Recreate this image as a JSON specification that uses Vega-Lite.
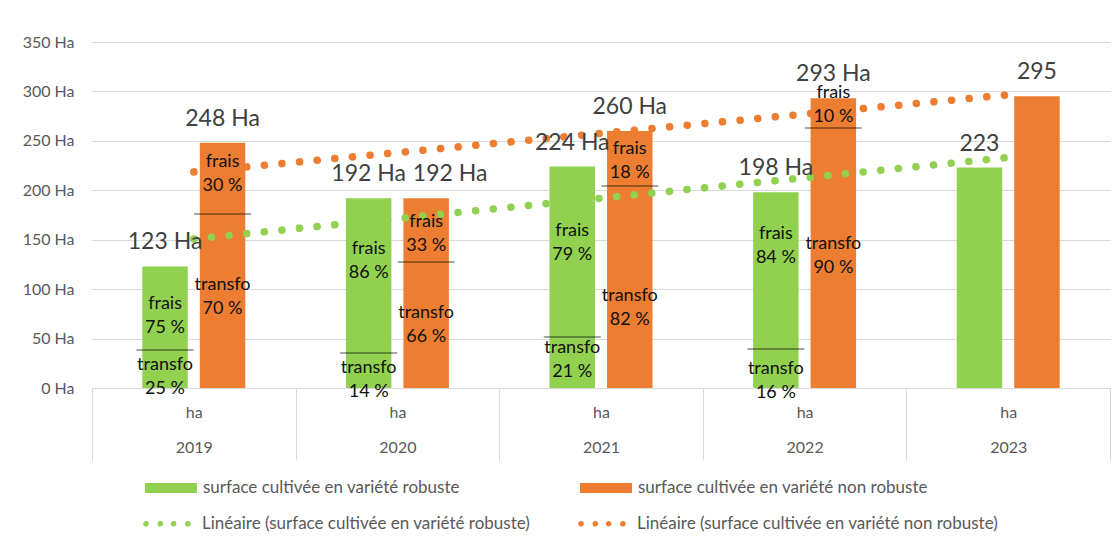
{
  "$schema": "https://vega.github.io/schema/vega-lite/v6.json",
  "width": 1018,
  "height": 346,
  "autosize": {"type": "none"},
  "padding": {"left": 92, "top": 42, "right": 9, "bottom": 154},
  "background": "white",
  "config": {
    "font": "Lato",
    "view": {"stroke": null},
    "axis": {"labelFont": "Lato", "labelColor": "#595959", "labelFontSize": 16, "title": null}
  },
  "datasets": {
    "surf": [
      {"annee": 2019, "serie": "surface cultivée en variété robuste", "tendance": "Linéaire (surface cultivée en variété robuste)", "ha": 123, "etiquette": "123 Ha"},
      {"annee": 2019, "serie": "surface cultivée en variété non robuste", "tendance": "Linéaire (surface cultivée en variété non robuste)", "ha": 248, "etiquette": "248 Ha"},
      {"annee": 2020, "serie": "surface cultivée en variété robuste", "tendance": "Linéaire (surface cultivée en variété robuste)", "ha": 192, "etiquette": "192 Ha"},
      {"annee": 2020, "serie": "surface cultivée en variété non robuste", "tendance": "Linéaire (surface cultivée en variété non robuste)", "ha": 192, "etiquette": "192 Ha"},
      {"annee": 2021, "serie": "surface cultivée en variété robuste", "tendance": "Linéaire (surface cultivée en variété robuste)", "ha": 224, "etiquette": "224 Ha"},
      {"annee": 2021, "serie": "surface cultivée en variété non robuste", "tendance": "Linéaire (surface cultivée en variété non robuste)", "ha": 260, "etiquette": "260 Ha"},
      {"annee": 2022, "serie": "surface cultivée en variété robuste", "tendance": "Linéaire (surface cultivée en variété robuste)", "ha": 198, "etiquette": "198 Ha"},
      {"annee": 2022, "serie": "surface cultivée en variété non robuste", "tendance": "Linéaire (surface cultivée en variété non robuste)", "ha": 293, "etiquette": "293 Ha"},
      {"annee": 2023, "serie": "surface cultivée en variété robuste", "tendance": "Linéaire (surface cultivée en variété robuste)", "ha": 223, "etiquette": "223"},
      {"annee": 2023, "serie": "surface cultivée en variété non robuste", "tendance": "Linéaire (surface cultivée en variété non robuste)", "ha": 295, "etiquette": "295"}
    ],
    "notes": [
      {"annee": 2019, "serie": "surface cultivée en variété robuste", "texte": ["frais", "75 %"], "ha": 73.3},
      {"annee": 2019, "serie": "surface cultivée en variété robuste", "texte": ["transfo", "25 %"], "ha": 11.1},
      {"annee": 2019, "serie": "surface cultivée en variété non robuste", "texte": ["frais", "30 %"], "ha": 216},
      {"annee": 2019, "serie": "surface cultivée en variété non robuste", "texte": ["transfo", "70 %"], "ha": 92},
      {"annee": 2020, "serie": "surface cultivée en variété robuste", "texte": ["frais", "86 %"], "ha": 128.5},
      {"annee": 2020, "serie": "surface cultivée en variété robuste", "texte": ["transfo", "14 %"], "ha": 8.1},
      {"annee": 2020, "serie": "surface cultivée en variété non robuste", "texte": ["frais", "33 %"], "ha": 155.8},
      {"annee": 2020, "serie": "surface cultivée en variété non robuste", "texte": ["transfo", "66 %"], "ha": 63.7},
      {"annee": 2021, "serie": "surface cultivée en variété robuste", "texte": ["frais", "79 %"], "ha": 146.7},
      {"annee": 2021, "serie": "surface cultivée en variété robuste", "texte": ["transfo", "21 %"], "ha": 28.3},
      {"annee": 2021, "serie": "surface cultivée en variété non robuste", "texte": ["frais", "18 %"], "ha": 230},
      {"annee": 2021, "serie": "surface cultivée en variété non robuste", "texte": ["transfo", "82 %"], "ha": 80.9},
      {"annee": 2022, "serie": "surface cultivée en variété robuste", "texte": ["frais", "84 %"], "ha": 143.6},
      {"annee": 2022, "serie": "surface cultivée en variété robuste", "texte": ["transfo", "16 %"], "ha": 6.6},
      {"annee": 2022, "serie": "surface cultivée en variété non robuste", "texte": ["frais", "10 %"], "ha": 286.3},
      {"annee": 2022, "serie": "surface cultivée en variété non robuste", "texte": ["transfo", "90 %"], "ha": 134}
    ],
    "traits": [
      {"annee": 2019, "serie": "surface cultivée en variété robuste", "ha": 38.4},
      {"annee": 2019, "serie": "surface cultivée en variété non robuste", "ha": 176},
      {"annee": 2020, "serie": "surface cultivée en variété robuste", "ha": 35.4},
      {"annee": 2020, "serie": "surface cultivée en variété non robuste", "ha": 127.5},
      {"annee": 2021, "serie": "surface cultivée en variété robuste", "ha": 51.6},
      {"annee": 2021, "serie": "surface cultivée en variété non robuste", "ha": 204.3},
      {"annee": 2022, "serie": "surface cultivée en variété robuste", "ha": 39.4},
      {"annee": 2022, "serie": "surface cultivée en variété non robuste", "ha": 263}
    ]
  },
  "layer": [
    {
      "data": {"name": "surf"},
      "mark": {"type": "bar"},
      "encoding": {
        "x": {
          "field": "annee", "type": "ordinal",
          "scale": {"domain": [2019, 2020, 2021, 2022, 2023], "paddingInner": 0, "paddingOuter": 0},
          "axis": {
            "orient": "bottom", "labelAngle": 0,
            "labelExpr": "datum.label ? ['ha', datum.label] : ''",
            "labelLineHeight": 35, "labelBaseline": "top", "labelPadding": -56,
            "labelColor": "#595959", "labelFontSize": 16,
            "tickBand": "extent", "tickSize": 72, "tickColor": "#d9d9d9", "tickWidth": 1,
            "domainColor": "#d9d9d9", "domainWidth": 1,
            "labelOverlap": false, "labelBound": false, "grid": false
          }
        },
        "xOffset": {
          "field": "serie", "type": "nominal",
          "scale": {"domain": ["surface cultivée en variété robuste", "surface cultivée en variété non robuste"], "paddingInner": 0.209, "paddingOuter": 0.875}
        },
        "y": {
          "field": "ha", "type": "quantitative",
          "scale": {"domain": [0, 350], "nice": false},
          "axis": {
            "values": [0, 50, 100, 150, 200, 250, 300, 350],
            "labelExpr": "datum.value + ' Ha'",
            "ticks": false, "domain": false, "grid": true, "gridColor": "#d9d9d9", "gridWidth": 1,
            "labelPadding": 18, "labelColor": "#595959", "labelFontSize": 16
          }
        },
        "color": {
          "field": "serie", "type": "nominal",
          "scale": {"domain": ["surface cultivée en variété robuste", "surface cultivée en variété non robuste"], "range": ["#92D050", "#ED7D31"]},
          "legend": {
            "title": null, "orient": "none", "legendX": 53, "legendY": 420,
            "direction": "horizontal", "columns": 2, "columnPadding": 120,
            "symbolType": "M-1,-0.19L1,-0.19L1,0.19L-1,0.19Z", "symbolSize": 2704, "symbolStrokeWidth": 0,
            "labelOffset": 6, "labelFontSize": 17, "labelColor": "#595959", "labelFont": "Lato", "labelLimit": 600,
            "padding": 0
          }
        }
      }
    },
    {
      "data": {"name": "surf"},
      "transform": [{"regression": "ha", "on": "annee", "groupby": ["tendance"]}],
      "mark": {"type": "line", "strokeCap": "round"},
      "encoding": {
        "x": {"field": "annee", "type": "quantitative", "scale": {"domain": [2018.5, 2023.5], "nice": false, "zero": false}, "axis": null},
        "y": {"field": "ha", "type": "quantitative"},
        "strokeWidth": {"value": 7.5},
        "strokeDash": {"value": [0.1, 17.6]},
        "stroke": {
          "field": "tendance", "type": "nominal",
          "scale": {"domain": ["Linéaire (surface cultivée en variété robuste)", "Linéaire (surface cultivée en variété non robuste)"], "range": ["#92D050", "#ED7D31"]},
          "legend": {
            "title": null, "orient": "none", "legendX": 52, "legendY": 454,
            "direction": "horizontal", "columns": 2, "columnPadding": 43,
            "symbolType": "M-1.038,0A0.058,0.058,0,1,1,-0.922,0A0.058,0.058,0,1,1,-1.038,0ZM-0.488,0A0.058,0.058,0,1,1,-0.372,0A0.058,0.058,0,1,1,-0.488,0ZM0.022,0A0.058,0.058,0,1,1,0.138,0A0.058,0.058,0,1,1,0.022,0ZM0.572,0A0.058,0.058,0,1,1,0.688,0A0.058,0.058,0,1,1,0.572,0Z",
            "symbolSize": 2704, "symbolStrokeWidth": 2.6,
            "labelOffset": 3, "labelFontSize": 17, "labelColor": "#595959", "labelFont": "Lato", "labelLimit": 600,
            "padding": 0
          }
        }
      }
    },
    {
      "layer": [
        {
          "data": {"name": "traits"},
          "mark": {"type": "tick", "size": 57, "thickness": 1, "color": "#000000"},
          "encoding": {
            "x": {"field": "annee", "type": "ordinal", "scale": {"domain": [2019, 2020, 2021, 2022, 2023], "paddingInner": 0, "paddingOuter": 0}, "axis": null},
            "xOffset": {"field": "serie", "type": "nominal", "scale": {"domain": ["surface cultivée en variété robuste", "surface cultivée en variété non robuste"], "paddingInner": 0.209, "paddingOuter": 0.875}},
            "y": {"field": "ha", "type": "quantitative"}
          }
        },
        {
          "data": {"name": "notes"},
          "mark": {"type": "text", "fontSize": 18, "lineHeight": 24, "baseline": "middle", "align": "center", "dy": -12, "color": "#111111", "font": "Lato"},
          "encoding": {
            "x": {"field": "annee", "type": "ordinal", "scale": {"domain": [2019, 2020, 2021, 2022, 2023], "paddingInner": 0, "paddingOuter": 0}, "axis": null},
            "xOffset": {"field": "serie", "type": "nominal", "scale": {"domain": ["surface cultivée en variété robuste", "surface cultivée en variété non robuste"], "paddingInner": 0.209, "paddingOuter": 0.875}},
            "y": {"field": "ha", "type": "quantitative"},
            "text": {"field": "texte", "type": "nominal"}
          }
        },
        {
          "data": {"name": "surf"},
          "transform": [{"filter": "!(datum.annee == 2020 && datum.serie == 'surface cultivée en variété non robuste')"}],
          "mark": {"type": "text", "fontSize": 23, "baseline": "middle", "align": "center", "dy": -24, "color": "#404040", "font": "Lato"},
          "encoding": {
            "x": {"field": "annee", "type": "ordinal", "scale": {"domain": [2019, 2020, 2021, 2022, 2023], "paddingInner": 0, "paddingOuter": 0}, "axis": null},
            "xOffset": {"field": "serie", "type": "nominal", "scale": {"domain": ["surface cultivée en variété robuste", "surface cultivée en variété non robuste"], "paddingInner": 0.209, "paddingOuter": 0.875}},
            "y": {"field": "ha", "type": "quantitative"},
            "text": {"field": "etiquette", "type": "nominal"}
          }
        },
        {
          "data": {"name": "surf"},
          "transform": [{"filter": "datum.annee == 2020 && datum.serie == 'surface cultivée en variété non robuste'"}],
          "mark": {"type": "text", "fontSize": 23, "baseline": "middle", "align": "center", "dy": -24, "dx": 24, "color": "#404040", "font": "Lato"},
          "encoding": {
            "x": {"field": "annee", "type": "ordinal", "scale": {"domain": [2019, 2020, 2021, 2022, 2023], "paddingInner": 0, "paddingOuter": 0}, "axis": null},
            "xOffset": {"field": "serie", "type": "nominal", "scale": {"domain": ["surface cultivée en variété robuste", "surface cultivée en variété non robuste"], "paddingInner": 0.209, "paddingOuter": 0.875}},
            "y": {"field": "ha", "type": "quantitative"},
            "text": {"field": "etiquette", "type": "nominal"}
          }
        }
      ]
    }
  ],
  "resolve": {"scale": {"x": "independent"}}
}
